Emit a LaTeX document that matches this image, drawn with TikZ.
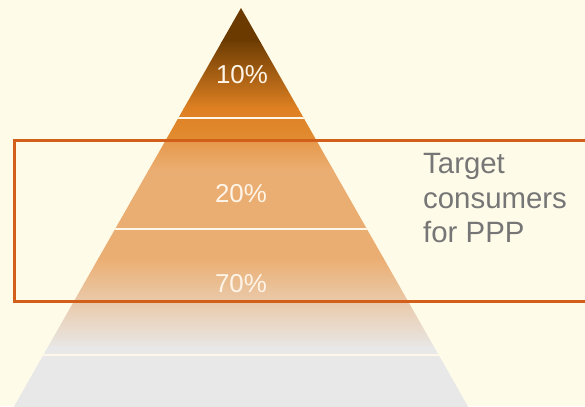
\documentclass[tikz,border=0pt]{standalone}
\usepackage{fontspec}
\setmainfont{Liberation Sans}
\definecolor{bgcream}{RGB}{255,251,233}
\definecolor{brownA}{RGB}{106,58,0}
\definecolor{brownB}{RGB}{112,62,4}
\definecolor{orangeA}{RGB}{222,128,34}
\definecolor{orangeB}{RGB}{226,140,50}
\definecolor{orangeC}{RGB}{230,152,74}
\definecolor{peach}{RGB}{235,174,114}
\definecolor{greyA}{RGB}{232,230,228}
\definecolor{greyB}{RGB}{232,232,232}
\definecolor{sepline}{RGB}{255,248,232}
\definecolor{boxline}{RGB}{210,96,26}
\definecolor{labelgrey}{RGB}{118,118,118}
\definecolor{pcttext}{RGB}{255,244,232}
\tikzset{
  band/.style={draw=none},
  sep/.style={draw=sepline, line width=2bp},
  pct/.style={text=pcttext, font=\fontsize{26}{30}\selectfont, inner sep=0pt, anchor=base},
  targetbox/.style={draw=boxline, line width=3bp},
  sidelabel/.style={text=labelgrey, font=\fontsize{29.5}{34.8}\selectfont, align=left, inner sep=0pt, anchor=north west}
}
\begin{document}
\begin{tikzpicture}[x=1bp,y=-1bp]
\useasboundingbox (0,0) rectangle (585,406);
\fill[bgcream] (0,0) rectangle (585,406);
\coordinate (apex) at (241,8);
\coordinate (bl) at (12,410);
\coordinate (br) at (470,410);
\begin{scope}
  \clip (apex) -- (br) -- (bl) -- cycle;
  \fill[brownA] (0,0) rectangle (585,42.5);
  \shade[band, top color=brownB, bottom color=orangeA] (0,42) rectangle (585,108.5);
  \shade[band, top color=orangeA, bottom color=orangeB] (0,108) rectangle (585,140.5);
  \shade[band, top color=orangeC, bottom color=peach] (0,140) rectangle (585,170.5);
  \fill[peach] (0,170) rectangle (585,258.5);
  \shade[band, top color=peach, bottom color=greyA] (0,258) rectangle (585,346.5);
  \fill[greyB] (0,346) rectangle (585,410);
  \draw[sep] (0,118) -- (585,118);
  \draw[sep] (0,229) -- (585,229);
  \draw[sep] (0,355) -- (585,355);
\end{scope}
\draw[targetbox] (600,140) -- (14,140) -- (14,301) -- (600,301);
\node[pct] (p10) at (242,83) {10\%};
\node[pct] (p20) at (241,202) {20\%};
\node[pct] (p70) at (241,292) {70\%};
\node[sidelabel] (target) at (423,153) {Target\\consumers\\for PPP};
\end{tikzpicture}
\end{document}
